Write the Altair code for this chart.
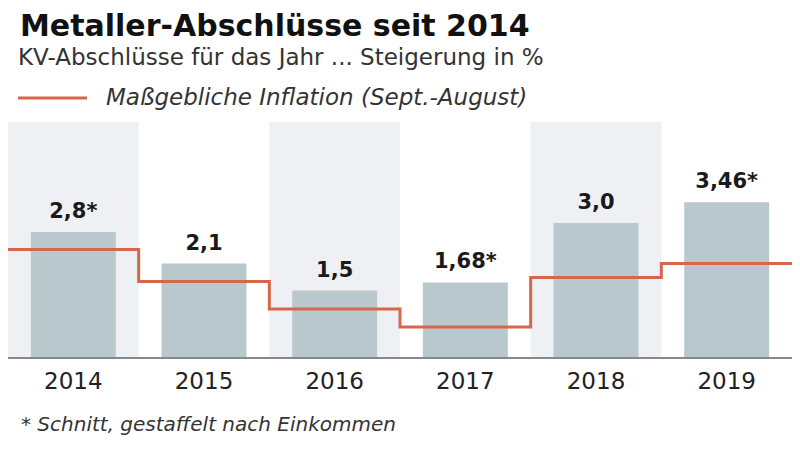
import altair as alt
import pandas as pd

# ---- data ----
years = ["2014", "2015", "2016", "2017", "2018", "2019"]
abschluss = [2.8, 2.1, 1.5, 1.68, 3.0, 3.46]
value_labels = ["2,8*", "2,1", "1,5", "1,68*", "3,0", "3,46*"]
inflation = [2.41, 1.70, 1.09, 0.69, 1.79, 2.10]

title_text = "Metaller-Abschlüsse seit 2014"
subtitle_text = "KV-Abschlüsse für das Jahr ... Steigerung in %"
legend_text = "Maßgebliche Inflation (Sept.-August)"
footnote_text = "* Schnitt, gestaffelt nach Einkommen"

W, H = 784, 236
YMAX = 236 / 45
FONT = "DejaVu Sans"

df = pd.DataFrame({"year": years, "idx": list(range(len(years))),
                   "value": abschluss, "label": value_labels})
line_df = pd.DataFrame({"pos": list(range(len(years) + 1)),
                        "infl": inflation + [inflation[-1]]})
one = pd.DataFrame({"a": [0]})

xs = alt.Scale(domain=[0, len(years)], nice=False, zero=False)
ys = alt.Scale(domain=[0, YMAX], nice=False)

base = alt.Chart(df)

bands = base.transform_filter("datum.idx % 2 == 0").transform_calculate(
    x0="datum.idx", x1="datum.idx + 1"
).mark_rect(color="#eef0f3").encode(
    x=alt.X("x0:Q", scale=xs, axis=None), x2="x1:Q",
    y=alt.value(0), y2=alt.value(H)
)

bars = base.transform_calculate(
    b0="datum.idx + 0.175", b1="datum.idx + 0.825"
).mark_rect(color="#b9c8cc").encode(
    x=alt.X("b0:Q", scale=xs, axis=None), x2="b1:Q",
    y=alt.Y("value:Q", scale=ys, axis=None), y2=alt.value(H)
)

baseline = alt.Chart(one).mark_rule(color="#85898c", strokeWidth=2).encode(
    x=alt.value(0), x2=alt.value(W), y=alt.value(H)
)

line = alt.Chart(line_df).mark_line(
    interpolate="step-after", color="#d6674c", strokeWidth=3
).encode(
    x=alt.X("pos:Q", scale=xs, axis=None),
    y=alt.Y("infl:Q", scale=ys, axis=None)
)

vlabels = base.transform_calculate(c="datum.idx + 0.5").mark_text(
    font=FONT, fontWeight="bold", fontSize=21, dy=-14,
    baseline="alphabetic", align="center", color="#1a1a1a"
).encode(
    x=alt.X("c:Q", scale=xs, axis=None),
    y=alt.Y("value:Q", scale=ys, axis=None),
    text="label:N"
)

ylabels = base.transform_calculate(c="datum.idx + 0.5").mark_text(
    font=FONT, fontSize=23, baseline="alphabetic", align="center", color="#222222"
).encode(
    x=alt.X("c:Q", scale=xs, axis=None),
    y=alt.value(267),
    text="year:N"
)

def label(txt, x, y, size, weight="normal", style="normal", color="#333333"):
    return alt.Chart(one).mark_text(
        font=FONT, fontSize=size, fontWeight=weight, fontStyle=style,
        align="left", baseline="alphabetic", color=color
    ).encode(x=alt.value(x), y=alt.value(y), text=alt.value(txt))

title = label(title_text, 12, -86, 30, weight="bold", color="#111111")
subtitle = label(subtitle_text, 10, -57, 23)
legend_line = alt.Chart(one).mark_rule(color="#d6674c", strokeWidth=3).encode(
    x=alt.value(10), x2=alt.value(79), y=alt.value(-24)
)
legend_lbl = label(legend_text, 98, -17, 23, style="italic")
footnote = label(footnote_text, 13, 309, 20, style="italic")

chart = alt.layer(
    bands, bars, baseline, line, vlabels, ylabels,
    title, subtitle, legend_line, legend_lbl, footnote
).properties(
    width=W, height=H,
    autosize=alt.AutoSizeParams(type="none"),
    padding={"left": 0, "top": 114, "right": 0, "bottom": 84},
    background="white"
).configure_view(stroke=None)

chart.save("out.html", embed_options={"renderer": "svg", "actions": False})
